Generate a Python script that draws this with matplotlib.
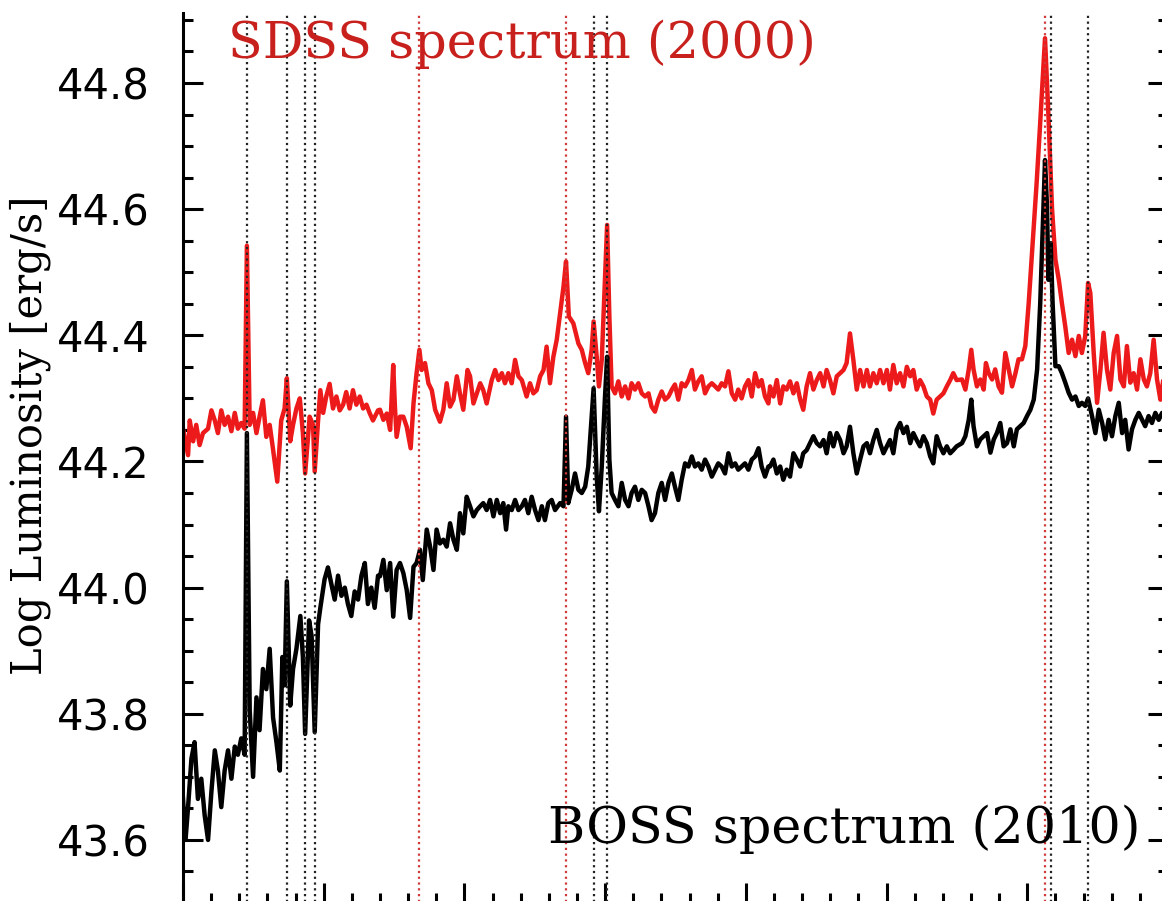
import matplotlib
matplotlib.use("Agg")
import matplotlib.pyplot as plt
from matplotlib.ticker import MultipleLocator, FormatStrFormatter


# =========================
# DATOS
# =========================
wave_sdss = [
    3500, 3518, 3524, 3536, 3547, 3559, 3571, 3589, 3601, 3613, 3624, 3636, 3648, 3660, 3672,
    3684, 3695, 3707, 3719, 3727, 3737, 3749, 3761, 3772, 3784, 3796, 3808, 3820, 3835, 3849,
    3861, 3869, 3881, 3891, 3903, 3915, 3926, 3934, 3950, 3962, 3968, 3980, 3988, 3998, 4009,
    4021, 4033, 4045, 4057, 4069, 4080, 4092, 4104, 4116, 4128, 4140, 4152, 4163, 4175, 4193,
    4200, 4212, 4224, 4236, 4247, 4253, 4259, 4271, 4283, 4295, 4309, 4319, 4330, 4340, 4348,
    4360, 4372, 4384, 4396, 4413, 4425, 4437, 4449, 4461, 4473, 4484, 4496, 4511, 4520, 4532,
    4544, 4556, 4567, 4579, 4597, 4609, 4621, 4633, 4644, 4656, 4668, 4680, 4692, 4704, 4721,
    4733, 4745, 4757, 4769, 4781, 4792, 4804, 4816, 4828, 4840, 4852, 4861, 4871, 4887,
    4905, 4917, 4929, 4940, 4952, 4959, 4970, 4978, 4988, 4999, 5007, 5015, 5023, 5035, 5047,
    5059, 5071, 5083, 5094, 5106, 5118, 5130, 5142, 5154, 5165, 5177, 5189, 5201, 5213, 5225,
    5237, 5248, 5260, 5272, 5284, 5296, 5308, 5319, 5331, 5343, 5355, 5367, 5379, 5391, 5402,
    5414, 5426, 5438, 5450, 5462, 5473, 5485, 5497, 5509, 5521, 5533, 5545, 5556, 5568, 5580,
    5586, 5598, 5610, 5622, 5633, 5645, 5657, 5669, 5681, 5693, 5704, 5716, 5728, 5740, 5752,
    5764, 5776, 5787, 5799, 5811, 5823, 5835, 5847, 5858, 5870, 5882, 5894, 5906, 5918, 5930,
    5941, 5953, 5965, 5977, 5989, 6001, 6012, 6024, 6036, 6048, 6060, 6072, 6084, 6095, 6107,
    6119, 6131, 6143, 6155, 6166, 6178, 6190, 6202, 6214, 6226, 6237, 6249,
    6268, 6280, 6292, 6301, 6309, 6321, 6333, 6345, 6353, 6363, 6375, 6386, 6398, 6410, 6422,
    6434, 6446, 6458, 6469, 6481, 6493, 6505, 6521, 6533, 6545, 6563, 6575, 6588, 6600, 6612,
    6623, 6635, 6647, 6659, 6671, 6683, 6694, 6706, 6716, 6724, 6736, 6748, 6760, 6771, 6783,
    6795, 6807, 6819, 6831, 6843, 6854, 6866, 6878, 6890, 6902, 6914, 6925, 6937, 6949, 6961,
    6973, 6990,
]
lum_sdss = [
    44.252, 44.210, 44.265, 44.232, 44.258, 44.226, 44.245, 44.252, 44.281, 44.265, 44.245, 44.281, 44.258, 44.271, 44.248,
    44.277, 44.252, 44.261, 44.252, 44.542, 44.258, 44.277, 44.245, 44.271, 44.297, 44.239, 44.258, 44.219, 44.168, 44.265,
    44.284, 44.332, 44.232, 44.258, 44.284, 44.300, 44.245, 44.181, 44.271, 44.258, 44.184, 44.265, 44.313, 44.277, 44.303,
    44.323, 44.284, 44.303, 44.281, 44.290, 44.310, 44.284, 44.313, 44.290, 44.303, 44.284, 44.290, 44.277, 44.265, 44.281,
    44.282, 44.266, 44.276, 44.250, 44.353, 44.287, 44.239, 44.271, 44.271, 44.255, 44.221, 44.292, 44.340, 44.377, 44.345,
    44.356, 44.324, 44.313, 44.282, 44.263, 44.282, 44.324, 44.287, 44.298, 44.335, 44.308, 44.282, 44.345, 44.335, 44.292,
    44.308, 44.324, 44.313, 44.292, 44.329, 44.345, 44.329, 44.340, 44.324, 44.340, 44.324, 44.361, 44.335, 44.329, 44.303,
    44.324, 44.308, 44.313, 44.335, 44.345, 44.382, 44.324, 44.366, 44.393, 44.435, 44.477, 44.517, 44.430, 44.419,
    44.387, 44.377, 44.356, 44.340, 44.377, 44.422, 44.366, 44.319, 44.361, 44.483, 44.575, 44.430, 44.319, 44.308, 44.327,
    44.303, 44.319, 44.300, 44.324, 44.314, 44.324, 44.308, 44.303, 44.308, 44.287, 44.279, 44.298, 44.311, 44.298, 44.303,
    44.314, 44.322, 44.298, 44.324, 44.319, 44.329, 44.345, 44.314, 44.327, 44.335, 44.308, 44.319, 44.324, 44.319, 44.314,
    44.324, 44.319, 44.343, 44.308, 44.298, 44.314, 44.300, 44.319, 44.329, 44.303, 44.340, 44.319, 44.329, 44.303, 44.292,
    44.319, 44.303, 44.329, 44.292, 44.319, 44.314, 44.327, 44.308, 44.324, 44.298, 44.282, 44.319, 44.340, 44.314, 44.329,
    44.340, 44.319, 44.345, 44.329, 44.308, 44.335, 44.340, 44.345, 44.356, 44.403, 44.361, 44.314, 44.345, 44.319, 44.345,
    44.319, 44.340, 44.324, 44.345, 44.324, 44.345, 44.314, 44.353, 44.324, 44.340, 44.319, 44.350, 44.335, 44.345, 44.314,
    44.329, 44.319, 44.303, 44.298, 44.276, 44.298, 44.303, 44.308, 44.319, 44.329, 44.340, 44.329,
    44.330, 44.314, 44.346, 44.377, 44.346, 44.319, 44.330, 44.314, 44.356, 44.340, 44.330, 44.346, 44.319, 44.309, 44.372,
    44.346, 44.319, 44.340, 44.362, 44.362, 44.383, 44.451, 44.560, 44.640, 44.730, 44.871, 44.750, 44.600, 44.520, 44.488,
    44.451, 44.414, 44.372, 44.393, 44.367, 44.399, 44.372, 44.399, 44.483, 44.467, 44.372, 44.293, 44.346, 44.404, 44.346,
    44.314, 44.372, 44.399, 44.330, 44.319, 44.383, 44.325, 44.340, 44.314, 44.362, 44.330, 44.319, 44.340, 44.393, 44.330,
    44.298, 44.350,
]

wave_boss = [
    3500, 3509, 3518, 3530, 3541, 3553, 3565, 3577, 3589, 3601, 3613, 3624, 3636, 3648, 3660,
    3672, 3684, 3695, 3707, 3719, 3727, 3737, 3749, 3761, 3772, 3784, 3796, 3808, 3820, 3832,
    3844, 3853, 3861, 3869, 3881, 3891, 3903, 3917, 3926, 3934, 3948, 3957, 3968, 3980, 3988,
    4003, 4015, 4027, 4039, 4051, 4063, 4075, 4086, 4098, 4110, 4122, 4134, 4146, 4157, 4169,
    4181, 4193,
    4200, 4212, 4224, 4236, 4247, 4259, 4271, 4283, 4295, 4307, 4319, 4330, 4342, 4352, 4366,
    4378, 4390, 4401, 4413, 4425, 4437, 4449, 4461, 4473, 4484, 4496, 4508, 4520, 4532, 4544,
    4556, 4567, 4579, 4591, 4603, 4615, 4627, 4638, 4648, 4656, 4668, 4680, 4692, 4704, 4715,
    4727, 4739, 4751, 4763, 4775, 4786, 4798, 4810, 4822, 4840, 4852, 4861, 4869, 4881,
    4893, 4905, 4917, 4929, 4940, 4952, 4959, 4970, 4978, 4988, 4999, 5007, 5015, 5023, 5035,
    5047, 5059, 5071, 5083, 5094, 5106, 5118, 5130, 5142, 5154, 5165, 5177, 5189, 5201, 5213,
    5225, 5237, 5248, 5260, 5272, 5284, 5296, 5308, 5319, 5331, 5343, 5355, 5367, 5379, 5391,
    5402, 5414, 5426, 5438, 5450, 5462, 5473, 5485, 5497, 5509, 5521, 5533, 5545, 5556, 5568,
    5580,
    5586, 5598, 5610, 5622, 5633, 5645, 5657, 5669, 5681, 5693, 5704, 5716, 5728, 5740, 5752,
    5764, 5776, 5787, 5799, 5811, 5823, 5835, 5847, 5858, 5870, 5882, 5894, 5906, 5918, 5930,
    5941, 5953, 5965, 5977, 5989, 6001, 6012, 6024, 6036, 6048, 6060, 6072, 6084, 6095, 6107,
    6119, 6131, 6143, 6155, 6166, 6178, 6190, 6202, 6214, 6226, 6237, 6249,
    6268, 6280, 6292, 6301, 6309, 6321, 6333, 6345, 6357, 6369, 6381, 6392, 6404, 6416, 6428,
    6440, 6452, 6463, 6475, 6487, 6499, 6511, 6523, 6535, 6546, 6563, 6570, 6575, 6583, 6590,
    6600, 6612, 6623, 6635, 6647, 6659, 6671, 6683, 6694, 6706, 6716, 6730, 6742, 6754, 6766,
    6777, 6789, 6801, 6813, 6825, 6837, 6848, 6860, 6872, 6884, 6896, 6908, 6919, 6931, 6943,
    6955, 6967, 6979, 6990,
]
lum_boss = [
    43.665, 43.600, 43.652, 43.729, 43.755, 43.665, 43.697, 43.639, 43.600, 43.677, 43.742, 43.710, 43.652, 43.710, 43.742,
    43.697, 43.748, 43.735, 43.761, 43.735, 44.245, 43.806, 43.700, 43.826, 43.774, 43.871, 43.839, 43.903, 43.794, 43.755,
    43.710, 43.890, 43.845, 44.010, 43.813, 43.871, 43.903, 43.955, 43.890, 43.768, 43.948, 43.923, 43.771, 43.942, 43.968,
    44.013, 44.032, 44.006, 43.981, 44.019, 43.987, 44.000, 43.974, 43.955, 43.994, 43.981, 44.019, 44.039, 43.974, 44.000,
    43.968, 44.019,
    44.018, 44.044, 43.996, 44.039, 43.954, 44.028, 44.039, 44.023, 43.996, 43.952, 44.033, 44.039, 44.060, 44.012, 44.092,
    44.065, 44.028, 44.092, 44.070, 44.076, 44.065, 44.102, 44.076, 44.060, 44.118, 44.086, 44.144, 44.129, 44.113, 44.123,
    44.129, 44.134, 44.123, 44.139, 44.113, 44.139, 44.118, 44.134, 44.092, 44.129, 44.123, 44.139, 44.123, 44.129, 44.139,
    44.118, 44.144, 44.123, 44.107, 44.129, 44.107, 44.134, 44.139, 44.123, 44.134, 44.129, 44.271, 44.134, 44.155,
    44.181, 44.155, 44.150, 44.160, 44.192, 44.271, 44.316, 44.176, 44.121, 44.192, 44.298, 44.366, 44.203, 44.150, 44.139,
    44.129, 44.166, 44.139, 44.129, 44.150, 44.160, 44.139, 44.155, 44.150, 44.129, 44.107, 44.118, 44.150, 44.166, 44.139,
    44.166, 44.181, 44.160, 44.139, 44.171, 44.197, 44.192, 44.208, 44.192, 44.197, 44.187, 44.203, 44.192, 44.176, 44.187,
    44.197, 44.192, 44.181, 44.213, 44.192, 44.197, 44.187, 44.192, 44.197, 44.187, 44.203, 44.208, 44.221, 44.192, 44.176,
    44.192,
    44.192, 44.203, 44.181, 44.192, 44.171, 44.187, 44.176, 44.213, 44.203, 44.192, 44.213, 44.218, 44.229, 44.240, 44.229,
    44.224, 44.234, 44.213, 44.245, 44.224, 44.245, 44.234, 44.213, 44.224, 44.255, 44.213, 44.181, 44.203, 44.224, 44.229,
    44.213, 44.234, 44.250, 44.229, 44.213, 44.224, 44.234, 44.213, 44.250, 44.261, 44.245, 44.255, 44.229, 44.245, 44.234,
    44.224, 44.240, 44.229, 44.208, 44.197, 44.240, 44.224, 44.213, 44.224, 44.213, 44.218, 44.224,
    44.229, 44.240, 44.266, 44.298, 44.256, 44.224, 44.235, 44.240, 44.245, 44.214, 44.235, 44.245, 44.261, 44.224, 44.229,
    44.251, 44.224, 44.251, 44.256, 44.261, 44.272, 44.282, 44.298, 44.346, 44.451, 44.678, 44.605, 44.488, 44.546, 44.451,
    44.351, 44.351, 44.340, 44.325, 44.309, 44.298, 44.303, 44.288, 44.293, 44.288, 44.300, 44.272, 44.245, 44.282, 44.261,
    44.235, 44.266, 44.240, 44.272, 44.293, 44.245, 44.266, 44.219, 44.251, 44.266, 44.277, 44.266, 44.256, 44.272, 44.261,
    44.277, 44.266, 44.277, 44.270,
]

# lineas de emision / absorcion marcadas
lineas_negras = [3727, 3869, 3934, 3968, 4959, 5007, 6583, 6716]
lineas_rojas = [4340, 4861, 6563]

ROJO = "#ec1a1a"

# =========================
# GRAFICA
# =========================
fig = plt.figure(figsize=(11.62, 9.01), dpi=100)

# los ejes se salen de la figura por la derecha y por abajo (recorte del original)
ax = fig.add_axes([183 / 1162, -2 / 901, 985 / 1162, 890 / 901])

ax.plot(wave_sdss, lum_sdss, color=ROJO, lw=3.2, zorder=2)
ax.plot(wave_boss, lum_boss, color="black", lw=3.2, zorder=2)

for w in lineas_negras:
    ax.axvline(w, color="#222222", lw=1.6, linestyle=(0, (1, 1.6)), zorder=3)
for w in lineas_rojas:
    ax.axvline(w, color="#d03a3a", lw=1.6, linestyle=(0, (1, 1.6)), zorder=3)

ax.set_xlim(3500, 7000)
ax.set_ylim(43.5, 44.911)

ax.xaxis.set_major_locator(MultipleLocator(500))
ax.xaxis.set_minor_locator(MultipleLocator(100))
ax.yaxis.set_major_locator(MultipleLocator(0.2))
ax.yaxis.set_minor_locator(MultipleLocator(0.05))

ax.tick_params(which="both", direction="in", left=True, right=True, bottom=True, top=False,
               labelbottom=False, width=2.2)
ax.tick_params(which="major", length=14.5, labelsize=30, pad=24)
ax.tick_params(which="minor", length=7.5)
ax.yaxis.set_major_formatter(FormatStrFormatter("%.1f"))

ax.spines["top"].set_visible(False)
for s in ["left", "right", "bottom"]:
    ax.spines[s].set_linewidth(2.2)

ax.set_ylabel("Log Luminosity [erg/s]", fontsize=30, family="DejaVu Serif")
ax.yaxis.set_label_coords(-0.134, 0.526)

ax.text(3660, 44.84, "SDSS spectrum (2000)", color="#c8201c", fontsize=36.5,
        family="DejaVu Serif", ha="left", va="baseline")
ax.text(6901, 43.595, "BOSS spectrum (2010)", color="black", fontsize=36.5,
        family="DejaVu Serif", ha="right", va="baseline")

plt.savefig("out.png", dpi=100)
plt.close()
